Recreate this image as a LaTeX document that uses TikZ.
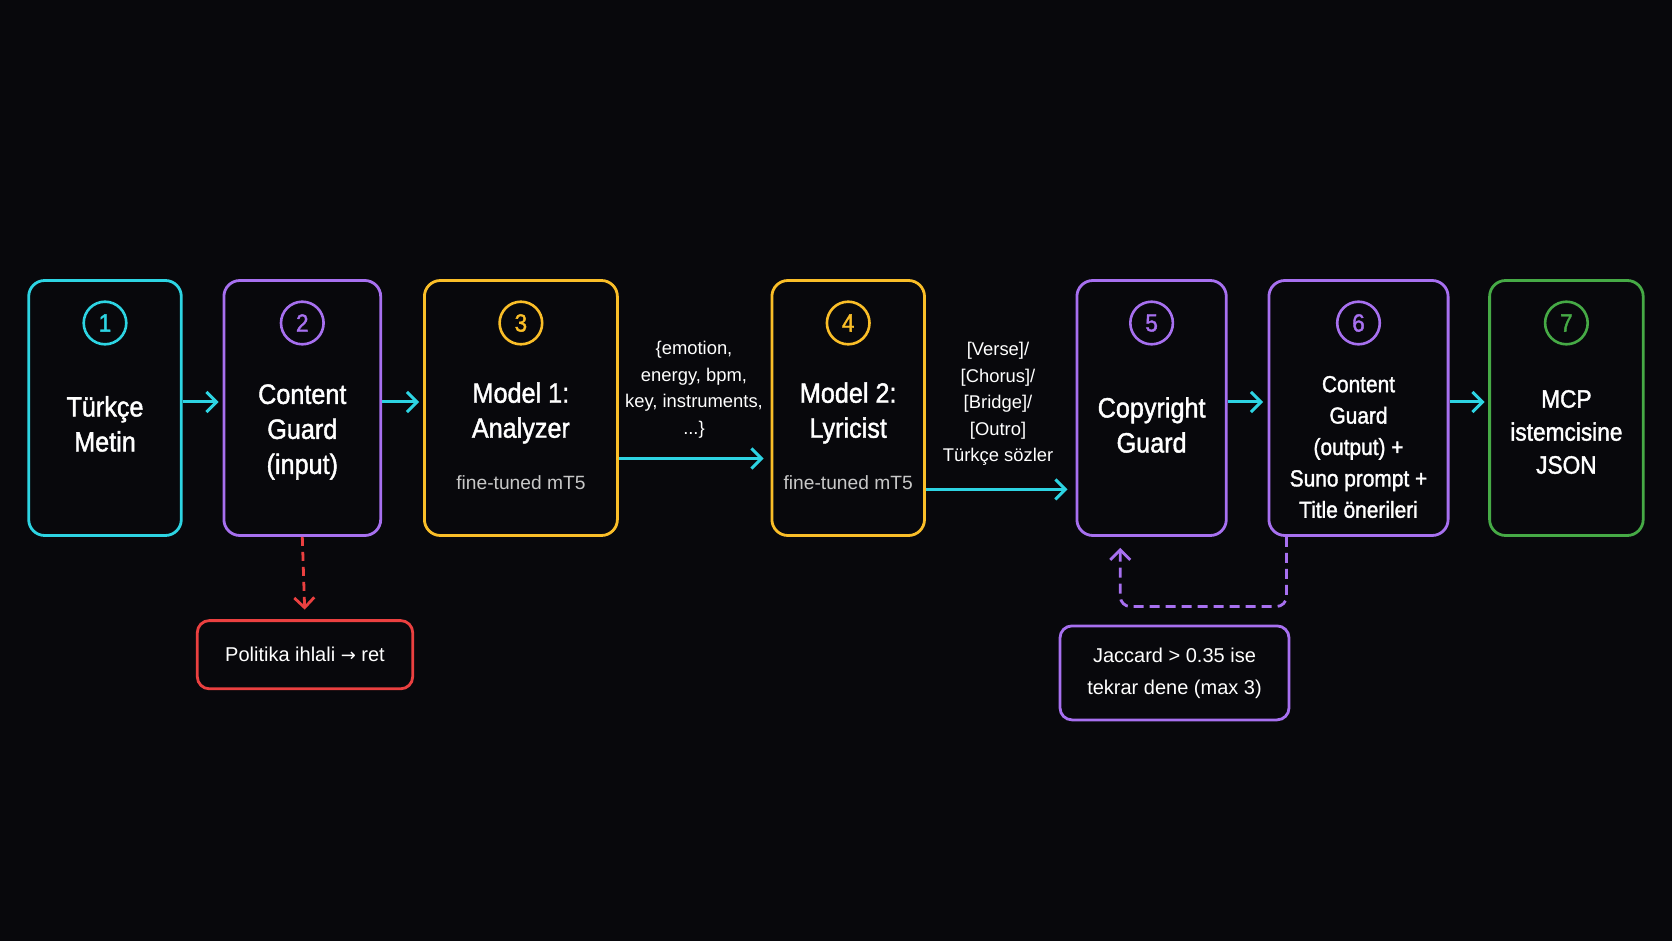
\documentclass[tikz,border=0pt]{standalone}
\usepackage{fontspec}
\setmainfont{Liberation Sans}
\newfontfamily\headfont{Liberation Sans}[FakeBold=1.5, FakeStretch=0.9]
\newfontfamily\symfont{DejaVu Sans}
\usetikzlibrary{arrows.meta}
\definecolor{bgc}{RGB}{8,8,12}
\definecolor{cyanc}{RGB}{45,212,227}
\definecolor{purplec}{RGB}{167,112,240}
\definecolor{yellowc}{RGB}{250,190,40}
\definecolor{greenc}{RGB}{70,170,70}
\definecolor{redc}{RGB}{235,64,64}
\definecolor{subc}{RGB}{200,200,200}
\tikzset{
	stage/.style={
		draw, rounded corners=8pt, line width=1.4pt, inner sep=0pt,
		minimum height=127.5pt
	},
	numcirc/.style={
		draw, circle, line width=1.3pt, inner sep=0pt, minimum size=21.3pt,
		font={\headfont\fontsize{12.5}{14}\selectfont}
	},
	maintext/.style={text=white, align=center, font={\headfont\fontsize{14}{17.5}\selectfont}},
	subtext/.style={text=subc, font={\fontsize{9.6}{12}\selectfont}},
	flowlabel/.style={text=white, align=center, font={\fontsize{9.2}{13.3}\selectfont}},
	notebox/.style={
		draw, rounded corners=6pt, line width=1.4pt, inner sep=0pt,
		text=white, align=center, font={\fontsize{10}{16}\selectfont}
	},
	flow/.style={->, draw=cyanc, line width=1.5pt},
	>={Straight Barb[length=5pt,width=10pt]},
}
\def\rowY{408}
\def\numY{323}

\begin{document}
\begin{tikzpicture}[x=0.5pt, y=-0.5pt]
\useasboundingbox[fill=bgc] (0,0) rectangle (1672,941);
% stages
\foreach \i/\x/\w/\col in {1/105/76.3/cyanc, 2/302.3/78.4/purplec, 3/520.9/96.5/yellowc,
  4/848.2/76.3/yellowc, 5/1151.6/74.7/purplec, 6/1358.5/89.6/purplec, 7/1566.4/76.8/greenc}
{
  \node[stage, draw=\col, minimum width=\w pt] (b\i) at (\x,\rowY) {};
  \node[numcirc, draw=\col, text=\col] (n\i) at (\x,\numY) {\i};
}
\node[maintext] (t1) at (105,424) {Türkçe\\Metin};
\node[maintext] (t2) at (302.3,432) {Content\\Guard\\(input)};
\node[maintext] (t3) at (520.9,413) {Model 1:\\Analyzer};
\node[subtext] (s3) at (520.9,483) {fine-tuned mT5};
\node[maintext] (t4) at (848.2,413) {Model 2:\\Lyricist};
\node[subtext] (s4) at (848.2,483) {fine-tuned mT5};
\node[maintext] (t5) at (1151.6,425) {Copyright\\Guard};
\node[maintext, font={\headfont\fontsize{11.6}{15.7}\selectfont}] (t6) at (1358.5,447)
  {Content\\Guard\\(output) +\\Suno prompt +\\Title önerileri};
\node[maintext, font={\headfont\fontsize{12.6}{16.5}\selectfont}] (t7) at (1566.4,432) {MCP\\istemcisine\\JSON};
% labels on flows
\node[flowlabel] (l1) at (694,389.7) {\{emotion,\\energy, bpm,\\key, instruments,\\...\}};
\node[flowlabel] (l2) at (998,404) {[Verse]/\\{}[Chorus]/\\{}[Bridge]/\\{}[Outro]\\Türkçe sözler};
% side notes
\node[notebox, draw=redc, minimum width=107.7pt, minimum height=34.1pt] (r) at (305,654.7) {Politika ihlali {\symfont\fontsize{9}{16}\selectfont →} ret};
\node[notebox, draw=purplec, minimum width=114.5pt, minimum height=47pt] (j) at (1174.5,672.9) {Jaccard > 0.35 ise\\tekrar dene (max 3)};
% connectors
\draw[flow, shorten >=2pt] ([yshift=3pt]b1.east) -- ([yshift=3pt]b2.west);
\draw[flow, shorten >=2pt] ([yshift=3pt]b2.east) -- ([yshift=3pt]b3.west);
\draw[flow, shorten >=3.5pt] ([yshift=-25.25pt]b3.east) -- ([yshift=-25.25pt]b4.west);
\draw[flow, shorten >=4pt] ([yshift=-40.7pt]b4.east) -- ([yshift=-40.7pt]b5.west);
\draw[flow, shorten >=2.2pt] ([yshift=3pt]b5.east) -- ([yshift=3pt]b6.west);
\draw[flow, shorten >=1.8pt] ([yshift=3pt]b6.east) -- ([yshift=3pt]b7.west);
\draw[->, draw=redc, line width=1.4pt, dash pattern=on 4.5pt off 3pt, shorten >=4.8pt] (b2.south) -- (r.north);
\draw[->, draw=purplec, line width=1.4pt, dash pattern=on 5pt off 3pt, rounded corners=5pt]
  ([xshift=9.5pt]b6.south west) -- ++(0,69.6) -| ([xshift=22.4pt,yshift=-5.5pt]b5.south west);
\end{tikzpicture}
\end{document}
